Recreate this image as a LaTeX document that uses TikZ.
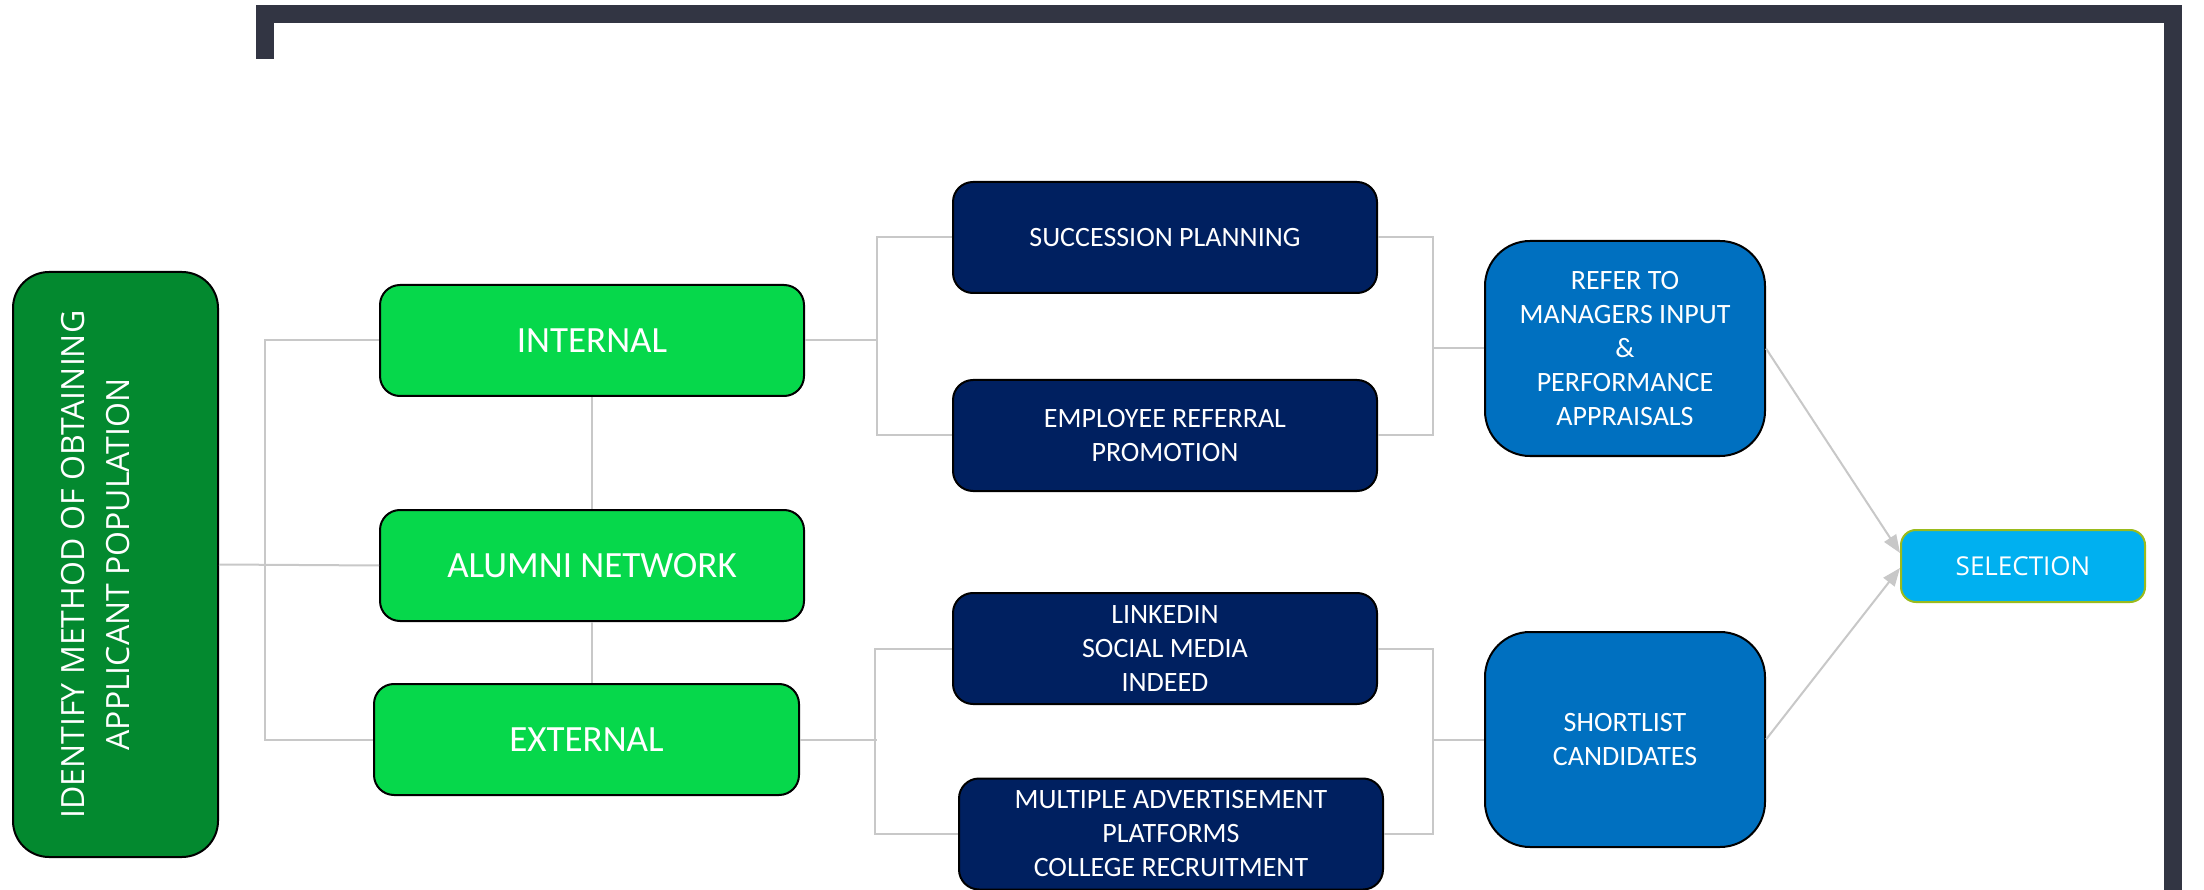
\documentclass[tikz,border=0pt]{standalone}
\usepackage{fontspec}
\setmainfont{Carlito}
\newfontfamily\segoe{Open Sans}
\usepackage{graphicx}
\usetikzlibrary{arrows.meta}
\definecolor{darkgrn}{HTML}{03892F}
\definecolor{brightgrn}{HTML}{06D84B}
\definecolor{navyb}{HTML}{002060}
\definecolor{midblue}{HTML}{0070C0}
\definecolor{cyanb}{HTML}{00B0F0}
\definecolor{oliveb}{HTML}{9BBB1C}
\definecolor{framec}{HTML}{323543}
\definecolor{connc}{HTML}{C8C8C8}
\begin{document}
\begin{tikzpicture}[x=1pt,y=-1pt,
  box/.style={draw=black, line width=2pt, text=white, inner sep=0pt, align=center},
  greenbox/.style={box, fill=brightgrn, rounded corners=20pt, minimum width=424pt, minimum height=111pt, font=\fontsize{37}{45}\selectfont},
  navybox/.style={box, fill=navyb, rounded corners=20pt, minimum width=424pt, minimum height=111pt, font=\fontsize{28}{34}\selectfont},
  bluebox/.style={box, fill=midblue, rounded corners=45pt, minimum width=280pt, minimum height=215pt, font=\fontsize{28}{34}\selectfont},
  conn/.style={draw=connc, line width=2pt},
  arr/.style={conn, -{Triangle[length=18pt,width=14pt]}}
]
\useasboundingbox[fill=white] (0,0) rectangle (2204,890);

% frame
\draw[framec, line width=18pt, line cap=butt, line join=miter] (265,59) -- (265,14) -- (2173,14) -- (2173,900);

% nodes
\node[box, fill=darkgrn, rounded corners=36pt, minimum width=205pt, minimum height=585pt] (idm) at (115.5,564.5)
  {\rotatebox{90}{\segoe\fontsize{32}{45}\selectfont\begin{tabular}{@{}c@{}}IDENTIFY METHOD OF OBTAINING\\APPLICANT POPULATION\\[-10pt]\mbox{}\end{tabular}}};

\node[greenbox] (int) at (592,340.5) {INTERNAL};
\node[greenbox] (alu) at (592,565.5) {ALUMNI NETWORK};
\node[greenbox, minimum width=425pt] (ext) at (586.5,739.5) {EXTERNAL};

\node[navybox] (sp) at (1165,237.5) {SUCCESSION PLANNING};
\node[navybox] (er) at (1165,435.5) {EMPLOYEE REFERRAL\\PROMOTION};
\node[navybox] (li) at (1165,648.5) {LINKEDIN\\SOCIAL MEDIA\\INDEED};
\node[navybox] (map) at (1171,834) {MULTIPLE ADVERTISEMENT\\PLATFORMS\\COLLEGE RECRUITMENT};

\node[bluebox] (ref) at (1625,348.5) {REFER TO\\MANAGERS INPUT\\\&\\PERFORMANCE\\APPRAISALS};
\node[bluebox] (sl) at (1625,739.5) {SHORTLIST\\CANDIDATES};

\node[box, draw=oliveb, fill=cyanb, rounded corners=15pt, minimum width=244pt, minimum height=72pt, font=\segoe\fontsize{26}{32}\selectfont] (sel) at (2023,566) {SELECTION};

% bracket coordinates
\coordinate (b1) at (878,0);
\coordinate (b2) at (1432,0);
\coordinate (b3) at (877,0);
\coordinate (b4) at (1432,0);

% connectors
\draw[conn] (idm.east) -- (alu.west);
\draw[conn] (int.west) -- ++(-114,0) |- (ext.west);
\draw[conn] (int.south) -- (alu.north);
\draw[conn] (alu.south) -- (alu.south |- ext.north);

\draw[conn] (sp.west) -- ++(-75,0) |- (er.west);
\draw[conn] (int.east) -- (int.east -| b1);
\draw[conn] (sp.east) -- ++(55,0) |- (er.east);
\draw[conn] (ref.west) -- (ref.west -| b2);

\draw[conn] (li.west) -- ++(-77,0) |- (map.west);
\draw[conn] (ext.east) -- (ext.east -| b3);
\draw[conn] (li.east) -- ++(55,0) |- (map.east);
\draw[conn] (sl.west) -- (sl.west -| b4);

\draw[arr] (ref.east) -- ([yshift=13pt]sel.west);
\draw[arr] (sl.east) -- ([yshift=-2pt]sel.west);
\end{tikzpicture}
\end{document}
